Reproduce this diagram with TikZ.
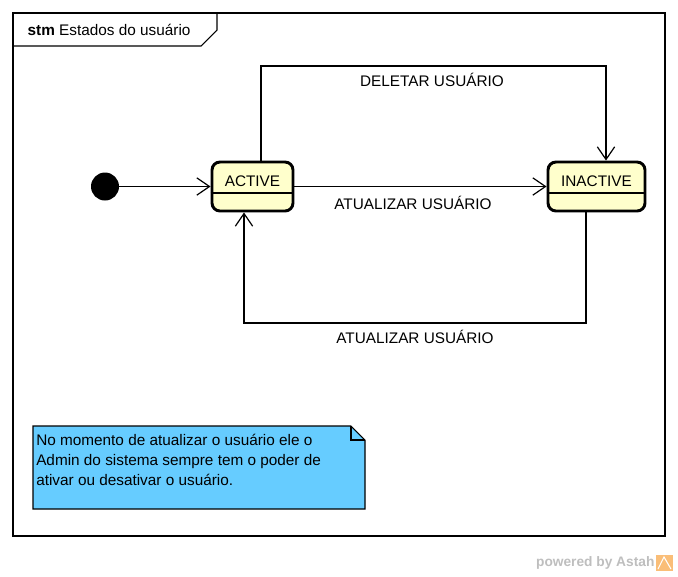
\documentclass[tikz,border=0pt]{standalone}
\usepackage{fontspec}
\setmainfont{Liberation Sans}
\usetikzlibrary{shapes}
\usetikzlibrary{arrows.meta}
\definecolor{statefill}{RGB}{255,255,204}
\definecolor{notefill}{RGB}{102,204,255}
\definecolor{markgray}{RGB}{190,190,190}
\definecolor{markorange}{RGB}{250,190,120}

\begin{document}
\begin{tikzpicture}[x=0.75pt,y=-0.75pt,every node/.style={font=\fontsize{11.5}{15}\selectfont},
						state/.style={draw,line width=2.2pt,rounded corners=6pt,fill=statefill,minimum height=36.75pt,inner sep=0pt},
						trans/.style={line width=0.9pt,-{Straight Barb[length=9.5pt,width=13pt,line width=0.9pt]}}
						]
						\useasboundingbox (0,0) rectangle (678,576);
						% frame
						\draw[line width=0.8pt] (13,13) rectangle (665,536);
						\draw[line width=0.8pt] (13,46) -- (201,46) -- (217,30) -- (217,13);
						\node[anchor=west](title) at (23,30) {\textbf{stm} Estados do usuário};
						% states
						\node[circle,fill=black,minimum size=21pt,inner sep=0pt](init) at (105,186.5) {};
						\node[state,minimum width=60.75pt](active) at (252.5,186.5) {};
						\node(activetxt) at (252.5,181) {ACTIVE};
						\draw[line width=0.9pt] (active.west |- 0,193) -- (active.east |- 0,193);
						\node[state,minimum width=72.75pt](inactive) at (596.5,186.5) {};
						\node(inactivetxt) at (596.5,181) {INACTIVE};
						\draw[line width=0.9pt] (inactive.west |- 0,193) -- (inactive.east |- 0,193);
						% transitions
						\coordinate (dleft) at (261,66);
						\coordinate (dright) at (606,66);
						\coordinate (uright) at (586,323);
						\coordinate (uleft) at (244,323);
						\draw[trans] (init) -- (active);
						\draw[trans] (active) -- (inactive);
						\draw[trans] (active.north -| dleft) -- (dleft) -- (dright) -- (inactive.north -| dright);
						\draw[trans] (inactive.south -| uright) -- (uright) -- (uleft) -- (active.south -| uleft);
						\node(deltxt) at (432,80) {DELETAR USUÁRIO};
						\node(upd1txt) at (413,203) {ATUALIZAR USUÁRIO};
						\node(upd2txt) at (415,337) {ATUALIZAR USUÁRIO};
						% note
						\draw[line width=0.8pt,fill=notefill] (33,426) -- (351,426) -- (365,440) -- (365,509) -- (33,509) -- cycle;
						\draw[line width=0.8pt] (351,426) -- (351,440) -- (365,440);
						\node[anchor=north west,align=left,inner sep=0pt](note) at (36,434) {No momento de atualizar o usuário ele o\\Admin do sistema sempre tem o poder de\\ativar ou desativar o usuário.};
						% watermark
						\node[anchor=east,text=markgray,font=\fontsize{10.3}{12}\bfseries,inner sep=1pt](mark) at (656,563) {powered by Astah};
						\fill[markorange] (656,555) rectangle (673,571);
						\draw[white,line width=0.8pt] (658,569) -- (664,557) -- (671,569);
						\end{tikzpicture}
\end{document}
